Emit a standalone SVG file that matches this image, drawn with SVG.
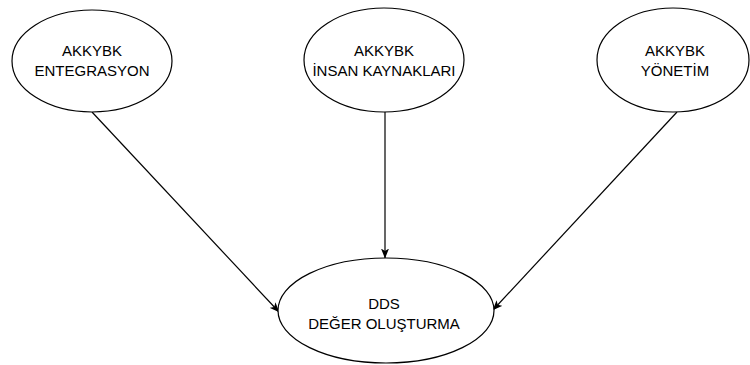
<svg xmlns="http://www.w3.org/2000/svg" width="750" height="365" viewBox="0 0 750 365">
<defs>
<style>
.node ellipse{fill:#fff;stroke:#000;stroke-width:1.2}
.node text{font-family:"Liberation Sans",Arial,sans-serif;font-size:15px;fill:#000;text-anchor:middle}
.edge{fill:none;stroke:#000;stroke-width:1.2}
</style>
<marker id="arr" viewBox="0 0 10 8" refX="9.5" refY="4" markerWidth="10" markerHeight="8" markerUnits="userSpaceOnUse" orient="auto">
<path d="M0,0 L10,4 L0,8 L2.5,4 z" fill="#000"/>
</marker>
</defs>
<rect width="750" height="365" fill="#fff"/>
<g id="edges">
<path class="edge" d="M92,112 L279,312" marker-end="url(#arr)"/>
<path class="edge" d="M385,112 L385,258" marker-end="url(#arr)"/>
<path class="edge" d="M677,112 L493,310" marker-end="url(#arr)"/>
</g>
<g id="n1" class="node">
<ellipse cx="92" cy="61" rx="80" ry="51"/>
<text x="92" y="56">AKKYBK</text>
<text x="92" y="76">ENTEGRASYON</text>
</g>
<g id="n2" class="node">
<ellipse cx="384" cy="60" rx="80" ry="52"/>
<text x="384" y="56">AKKYBK</text>
<text x="384" y="76">İNSAN KAYNAKLARI</text>
</g>
<g id="n3" class="node">
<ellipse cx="673" cy="60" rx="76" ry="52"/>
<text x="675" y="56">AKKYBK</text>
<text x="675" y="76">YÖNETİM</text>
</g>
<g id="n4" class="node">
<ellipse cx="386" cy="310.5" rx="108" ry="52.5"/>
<text x="384" y="308.5">DDS</text>
<text x="384" y="328.5">DEĞER OLUŞTURMA</text>
</g>
</svg>
